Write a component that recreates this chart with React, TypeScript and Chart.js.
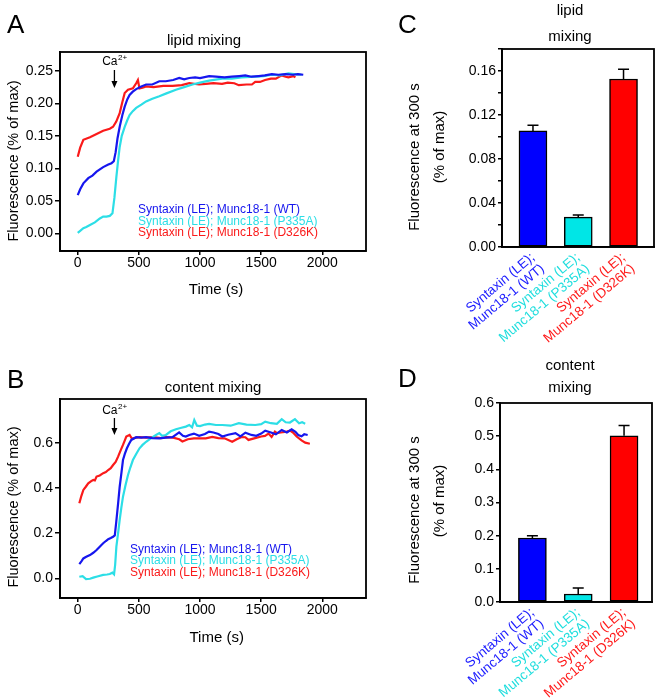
import React, { useEffect, useRef } from "react";
import { Chart, registerables } from "chart.js";

Chart.register(...registerables);

const FONT = '"Liberation Sans", Arial, Helvetica, sans-serif';

// ---------- shared labels / colours ----------
const seriesNames = [
  "Syntaxin (LE); Munc18-1 (WT)",
  "Syntaxin (LE); Munc18-1 (P335A)",
  "Syntaxin (LE); Munc18-1 (D326K)",
];
const lineColors = ["rgb(22,22,238)", "rgb(44,222,230)", "rgb(250,26,26)"];
const barFill = ["#0000ff", "#00e6e6", "#ff0000"];
const labelColors = ["#1a1aff", "#1fdede", "#ff1a1a"];
const barCategories = [
  ["Syntaxin (LE);", "Munc18-1 (WT)"],
  ["Syntaxin (LE);", "Munc18-1 (P335A)"],
  ["Syntaxin (LE);", "Munc18-1 (D326K)"],
];

// ---------- tick values ----------
const timeTicks = [0, 500, 1000, 1500, 2000];
const lipidTicks = [0, 0.05, 0.1, 0.15, 0.2, 0.25];
const contentTicks = [0, 0.2, 0.4, 0.6];
const lipidBarTicks = [0, 0.02, 0.04, 0.06, 0.08, 0.1, 0.12, 0.14, 0.16, 0.18];
const contentBarTicks = [0, 0.1, 0.2, 0.3, 0.4, 0.5, 0.6];
const caTime = 300;

// ---------- A: lipid mixing time courses ----------
const lipidWT_t = [0, 20, 46, 86, 120, 154, 208, 250, 276, 295, 310, 325, 343, 365, 384, 405, 424, 450, 478, 520, 559, 610, 667, 720, 780, 830, 870, 912, 960, 1000, 1074, 1130, 1200, 1260, 1320, 1370, 1420, 1480, 1530, 1587, 1640, 1700, 1760, 1800, 1844];
const lipidWT_v = [0.059, 0.068, 0.077, 0.085, 0.089, 0.095, 0.102, 0.106, 0.108, 0.111, 0.125, 0.146, 0.164, 0.182, 0.195, 0.206, 0.213, 0.218, 0.222, 0.226, 0.229, 0.229, 0.234, 0.234, 0.236, 0.239, 0.237, 0.239, 0.240, 0.239, 0.242, 0.241, 0.240, 0.241, 0.242, 0.243, 0.241, 0.242, 0.243, 0.245, 0.244, 0.245, 0.244, 0.245, 0.244];

const lipidP335A_t = [0, 20, 46, 70, 100, 140, 181, 208, 235, 262, 284, 300, 316, 330, 343, 360, 384, 405, 424, 450, 478, 520, 559, 610, 667, 720, 803, 870, 938, 1000, 1074, 1181, 1260, 1340, 1451, 1520, 1587, 1650, 1722, 1770, 1830];
const lipidP335A_v = [0.001, 0.004, 0.008, 0.010, 0.013, 0.017, 0.023, 0.026, 0.026, 0.027, 0.031, 0.055, 0.087, 0.112, 0.133, 0.150, 0.164, 0.174, 0.182, 0.188, 0.193, 0.198, 0.203, 0.207, 0.211, 0.215, 0.221, 0.225, 0.229, 0.232, 0.235, 0.238, 0.238, 0.240, 0.241, 0.242, 0.244, 0.243, 0.246, 0.245, 0.244];

const lipidD326K_t = [0, 20, 46, 100, 154, 208, 262, 289, 315, 343, 365, 384, 411, 451, 478, 492, 505, 530, 559, 620, 700, 776, 850, 912, 992, 1046, 1110, 1180, 1227, 1280, 1317, 1380, 1424, 1451, 1490, 1532, 1580, 1620, 1668, 1700, 1722, 1763, 1780];
const lipidD326K_v = [0.118, 0.132, 0.144, 0.148, 0.153, 0.158, 0.161, 0.164, 0.172, 0.185, 0.202, 0.216, 0.221, 0.223, 0.231, 0.236, 0.223, 0.224, 0.226, 0.225, 0.227, 0.227, 0.228, 0.231, 0.229, 0.230, 0.231, 0.230, 0.232, 0.231, 0.228, 0.229, 0.229, 0.233, 0.233, 0.236, 0.238, 0.238, 0.243, 0.241, 0.240, 0.242, 0.240];

// ---------- B: content mixing time courses ----------
const contentWT_t = [13, 30, 46, 70, 100, 127, 154, 180, 208, 230, 249, 270, 289, 303, 315, 330, 343, 358, 370, 385, 402, 420, 438, 478, 520, 559, 610, 667, 720, 775, 829, 860, 883, 912, 950, 993, 1040, 1074, 1110, 1150, 1182, 1230, 1290, 1330, 1371, 1420, 1460, 1500, 1533, 1580, 1620, 1668, 1710, 1749, 1780, 1803, 1830, 1852, 1880];
const contentWT_v = [0.063, 0.075, 0.088, 0.095, 0.103, 0.113, 0.125, 0.140, 0.155, 0.165, 0.173, 0.178, 0.184, 0.190, 0.250, 0.330, 0.405, 0.470, 0.523, 0.550, 0.575, 0.595, 0.612, 0.624, 0.622, 0.624, 0.620, 0.619, 0.622, 0.624, 0.645, 0.630, 0.627, 0.634, 0.640, 0.630, 0.638, 0.649, 0.645, 0.638, 0.627, 0.635, 0.642, 0.628, 0.644, 0.634, 0.630, 0.640, 0.653, 0.645, 0.637, 0.656, 0.645, 0.659, 0.648, 0.634, 0.628, 0.637, 0.634];

const contentP335A_t = [13, 40, 68, 100, 127, 160, 208, 240, 262, 284, 297, 306, 316, 330, 343, 356, 370, 390, 411, 430, 451, 478, 505, 530, 559, 600, 640, 667, 690, 721, 760, 803, 840, 884, 912, 935, 953, 975, 1000, 1040, 1074, 1130, 1182, 1250, 1317, 1380, 1452, 1500, 1533, 1580, 1628, 1668, 1700, 1735, 1776, 1810, 1835, 1860];
const contentP335A_v = [0.007, 0.010, -0.003, -0.002, 0.003, 0.008, 0.015, 0.017, 0.019, 0.025, 0.018, 0.060, 0.140, 0.200, 0.258, 0.310, 0.361, 0.410, 0.457, 0.490, 0.523, 0.550, 0.575, 0.590, 0.604, 0.620, 0.634, 0.642, 0.630, 0.634, 0.650, 0.659, 0.665, 0.671, 0.678, 0.668, 0.700, 0.675, 0.673, 0.680, 0.683, 0.678, 0.678, 0.675, 0.686, 0.680, 0.678, 0.682, 0.693, 0.686, 0.683, 0.704, 0.690, 0.689, 0.704, 0.686, 0.690, 0.684];

const contentD326K_t = [13, 30, 46, 66, 86, 110, 127, 140, 154, 180, 208, 230, 249, 270, 289, 310, 330, 350, 370, 385, 397, 424, 440, 451, 480, 505, 560, 620, 680, 721, 780, 830, 856, 900, 950, 991, 1047, 1100, 1150, 1200, 1263, 1300, 1340, 1370, 1396, 1450, 1500, 1531, 1560, 1585, 1612, 1628, 1660, 1709, 1736, 1760, 1790, 1830, 1860, 1898];
const contentD326K_v = [0.332, 0.365, 0.391, 0.405, 0.420, 0.430, 0.435, 0.433, 0.450, 0.455, 0.465, 0.470, 0.479, 0.487, 0.501, 0.515, 0.538, 0.565, 0.590, 0.610, 0.627, 0.634, 0.620, 0.619, 0.622, 0.624, 0.622, 0.624, 0.620, 0.624, 0.622, 0.615, 0.605, 0.615, 0.619, 0.619, 0.619, 0.625, 0.620, 0.619, 0.604, 0.615, 0.625, 0.624, 0.612, 0.620, 0.627, 0.630, 0.640, 0.625, 0.649, 0.642, 0.645, 0.649, 0.653, 0.645, 0.627, 0.610, 0.600, 0.595];

// ---------- C / D: fluorescence at 300 s ----------
const lipidBarMean = [0.1055, 0.0272, 0.1527];
const lipidBarSem = [0.0052, 0.0018, 0.009];
const contentBarMean = [0.193, 0.024, 0.501];
const contentBarSem = [0.007, 0.018, 0.031];

// ---------- helpers ----------
type Txt = {
  text: string;
  x: number;
  y: number;
  size: number;
  align?: CanvasTextAlign;
  baseline?: CanvasTextBaseline;
  rotate?: boolean;
  color?: string;
};

function makeDecor(ox: number, oy: number, texts: Txt[], extra?: (chart: any, ctx: CanvasRenderingContext2D) => void) {
  return {
    id: "decor",
    afterDraw(chart: any) {
      const ctx: CanvasRenderingContext2D = chart.ctx;
      const a = chart.chartArea;
      ctx.save();
      if (extra) extra(chart, ctx);
      ctx.strokeStyle = "#000";
      ctx.lineWidth = 1.8;
      ctx.strokeRect(a.left, a.top, a.right - a.left, a.bottom - a.top);
      for (const t of texts) {
        ctx.save();
        ctx.font = `${t.size}px ${FONT}`;
        ctx.fillStyle = t.color || "#000";
        ctx.textAlign = t.align || "center";
        ctx.textBaseline = t.baseline || "alphabetic";
        ctx.translate(t.x - ox, t.y - oy);
        if (t.rotate) ctx.rotate(-Math.PI / 2);
        ctx.fillText(t.text, 0, 0);
        ctx.restore();
      }
      ctx.restore();
    },
  };
}

const tickFont = { family: FONT, size: 14 };
const axisBorder = { display: true, color: "#000", width: 1.8 };
const axisGrid = (len: number) => ({
  display: true,
  drawOnChartArea: false,
  drawTicks: true,
  tickLength: len,
  color: "#000",
  lineWidth: 1.5,
  offset: false,
});

function lineChartConfig(p: any) {
  const decor = makeDecor(p.ox, p.oy, p.texts, (chart, ctx) => {
    // legend (text only, coloured like the series)
    ctx.font = `12px ${FONT}`;
    ctx.textAlign = "left";
    ctx.textBaseline = "middle";
    chart.data.datasets.forEach((d: any, i: number) => {
      ctx.fillStyle = d.borderColor;
      ctx.fillText(d.label, p.legend.x - p.ox, p.legend.y0 + i * p.legend.dy - p.oy);
    });
    // Ca2+ arrow
    const x = chart.scales.x.getPixelForValue(caTime);
    ctx.fillStyle = "#000";
    ctx.font = `12px ${FONT}`;
    const w1 = ctx.measureText("Ca").width;
    ctx.font = `8px ${FONT}`;
    const w2 = ctx.measureText("2+").width;
    const sx = x - (w1 + w2) / 2;
    ctx.textBaseline = "alphabetic";
    ctx.font = `12px ${FONT}`;
    ctx.fillText("Ca", sx, p.ca.base - p.oy);
    ctx.font = `8px ${FONT}`;
    ctx.fillText("2+", sx + w1 + 0.5, p.ca.base - 5 - p.oy);
    ctx.strokeStyle = "#000";
    ctx.lineWidth = 1.3;
    ctx.beginPath();
    ctx.moveTo(x, p.ca.top - p.oy);
    ctx.lineTo(x, p.ca.bottom - 5 - p.oy);
    ctx.stroke();
    ctx.beginPath();
    ctx.moveTo(x - 3, p.ca.bottom - 7 - p.oy);
    ctx.lineTo(x + 3, p.ca.bottom - 7 - p.oy);
    ctx.lineTo(x, p.ca.bottom - p.oy);
    ctx.closePath();
    ctx.fill();
  });
  return {
    type: "line",
    data: {
      datasets: p.series.map((s: any, i: number) => ({
        label: seriesNames[i],
        data: s.t.map((t: number, j: number) => ({ x: t, y: s.v[j] })),
        borderColor: lineColors[i],
        backgroundColor: lineColors[i],
        borderWidth: 2.2,
        pointRadius: 0,
        tension: 0,
        fill: false,
      })),
    },
    options: {
      responsive: false,
      animation: false,
      events: [],
      layout: { padding: p.padding },
      plugins: { legend: { display: false }, tooltip: { enabled: false } },
      scales: {
        x: {
          type: "linear",
          min: p.xMin,
          max: p.xMax,
          afterBuildTicks: (s: any) => {
            s.ticks = timeTicks.map((v) => ({ value: v }));
          },
          afterFit: (s: any) => {
            s.height = p.xHeight;
          },
          ticks: { font: tickFont, color: "#000", padding: 0, maxRotation: 0, autoSkip: false, callback: (v: number) => String(v) },
          grid: axisGrid(4),
          border: axisBorder,
        },
        y: {
          type: "linear",
          min: p.yMin,
          max: p.yMax,
          afterBuildTicks: (s: any) => {
            s.ticks = p.yTicks.map((v: number) => ({ value: v }));
          },
          afterFit: (s: any) => {
            s.width = p.yWidth;
          },
          ticks: { font: tickFont, color: "#000", padding: 2, autoSkip: false, callback: (v: number) => v.toFixed(p.yDigits) },
          grid: axisGrid(5),
          border: axisBorder,
        },
      },
    },
    plugins: [decor],
  };
}

function barChartConfig(p: any) {
  const decor = makeDecor(p.ox, p.oy, p.texts, (chart, ctx) => {
    const xs = chart.scales.x;
    const ys = chart.scales.y;
    ctx.strokeStyle = "#000";
    ctx.lineWidth = 1.5;
    p.means.forEach((m: number, i: number) => {
      const x = xs.getPixelForValue(i);
      const y0 = ys.getPixelForValue(m);
      const y1 = ys.getPixelForValue(m + p.sems[i]);
      ctx.beginPath();
      ctx.moveTo(x, y0);
      ctx.lineTo(x, y1);
      ctx.moveTo(x - 5.5, y1);
      ctx.lineTo(x + 5.5, y1);
      ctx.stroke();
    });
  });
  return {
    type: "bar",
    data: {
      datasets: [
        {
          data: p.means.map((m: number, i: number) => ({ x: i, y: m })),
          backgroundColor: barFill,
          borderColor: "#000",
          borderWidth: 1.5,
          borderSkipped: false,
          barThickness: 28,
        },
      ],
    },
    options: {
      responsive: false,
      animation: false,
      events: [],
      layout: { padding: p.padding },
      plugins: { legend: { display: false }, tooltip: { enabled: false } },
      scales: {
        x: {
          type: "linear",
          offset: false,
          min: p.xMin,
          max: p.xMax,
          afterBuildTicks: (s: any) => {
            s.ticks = barCategories.map((_, i) => ({ value: i }));
          },
          afterFit: (s: any) => {
            s.height = p.xHeight;
          },
          ticks: {
            font: { family: FONT, size: 13.5, lineHeight: 1.1 },
            color: (c: any) => labelColors[c.index],
            padding: 3,
            minRotation: 40,
            maxRotation: 40,
            autoSkip: false,
            callback: (_v: number, i: number) => barCategories[i],
          },
          grid: { display: false, drawTicks: false, offset: false },
          border: axisBorder,
        },
        y: {
          type: "linear",
          min: p.yMin,
          max: p.yMax,
          afterBuildTicks: (s: any) => {
            s.ticks = p.yTicks.map((v: number) => ({ value: v }));
          },
          afterFit: (s: any) => {
            s.width = p.yWidth;
          },
          ticks: { font: tickFont, color: "#000", padding: 2, autoSkip: false, callback: p.yLabel },
          grid: axisGrid(4),
          border: axisBorder,
        },
      },
    },
    plugins: [decor],
  };
}

function ChartCanvas({ left, top, width, height, make }: any) {
  const ref = useRef<HTMLCanvasElement>(null);
  useEffect(() => {
    const chart = new Chart(ref.current as HTMLCanvasElement, make() as any);
    return () => chart.destroy();
  }, []);
  return (
    <canvas
      ref={ref}
      width={width}
      height={height}
      style={{ position: "absolute", left, top, width, height, display: "block" }}
    />
  );
}

const makeA = () =>
  lineChartConfig({
    ox: 0,
    oy: 0,
    padding: { left: 0, top: 52, right: 14, bottom: 0 },
    yWidth: 60,
    xHeight: 79,
    xMin: -145,
    xMax: 2357,
    yMin: -0.027,
    yMax: 0.279,
    yTicks: lipidTicks,
    yDigits: 2,
    series: [
      { t: lipidWT_t, v: lipidWT_v },
      { t: lipidP335A_t, v: lipidP335A_v },
      { t: lipidD326K_t, v: lipidD326K_v },
    ],
    legend: { x: 138, y0: 210, dy: 11.2 },
    ca: { base: 65, top: 70, bottom: 88 },
    texts: [
      { text: "A", x: 7, y: 33, size: 26, align: "left" },
      { text: "lipid mixing", x: 204, y: 45, size: 15 },
      { text: "Fluorescence (% of max)", x: 14, y: 161, size: 14.5, rotate: true, baseline: "middle" },
      { text: "Time (s)", x: 216, y: 290, size: 15, baseline: "middle" },
    ],
  });

const makeB = () =>
  lineChartConfig({
    ox: 0,
    oy: 330,
    padding: { left: 0, top: 69, right: 14, bottom: 0 },
    yWidth: 60,
    xHeight: 101,
    xMin: -145,
    xMax: 2357,
    yMin: -0.087,
    yMax: 0.793,
    yTicks: contentTicks,
    yDigits: 1,
    series: [
      { t: contentWT_t, v: contentWT_v },
      { t: contentP335A_t, v: contentP335A_v },
      { t: contentD326K_t, v: contentD326K_v },
    ],
    legend: { x: 130, y0: 549.3, dy: 11.7 },
    ca: { base: 413.5, top: 418, bottom: 435 },
    texts: [
      { text: "B", x: 7, y: 388, size: 26, align: "left" },
      { text: "content mixing", x: 213, y: 392, size: 15 },
      { text: "Fluorescence (% of max)", x: 14, y: 507, size: 14.5, rotate: true, baseline: "middle" },
      { text: "Time (s)", x: 216.7, y: 638, size: 15, baseline: "middle" },
    ],
  });

const makeC = () =>
  barChartConfig({
    ox: 380,
    oy: 0,
    padding: { left: 0, top: 49, right: 6, bottom: 0 },
    yWidth: 122,
    xHeight: 103,
    xMin: -0.684,
    xMax: 2.673,
    yMin: 0,
    yMax: 0.18,
    yTicks: lipidBarTicks,
    yLabel: (v: number) => (Math.round(v * 100) % 4 === 0 ? v.toFixed(2) : ""),
    means: lipidBarMean,
    sems: lipidBarSem,
    texts: [
      { text: "C", x: 398, y: 33, size: 26, align: "left" },
      { text: "lipid", x: 570, y: 15, size: 15 },
      { text: "mixing", x: 570, y: 41, size: 15 },
      { text: "Fluorescence at 300 s", x: 414.5, y: 157, size: 15, rotate: true, baseline: "middle" },
      { text: "(% of max)", x: 440, y: 147, size: 15, rotate: true, baseline: "middle" },
    ],
  });

const makeD = () =>
  barChartConfig({
    ox: 380,
    oy: 350,
    padding: { left: 0, top: 53, right: 8, bottom: 0 },
    yWidth: 120,
    xHeight: 97,
    xMin: -0.707,
    xMax: 2.61,
    yMin: 0,
    yMax: 0.6,
    yTicks: contentBarTicks,
    yLabel: (v: number) => v.toFixed(1),
    means: contentBarMean,
    sems: contentBarSem,
    texts: [
      { text: "D", x: 398, y: 387, size: 26, align: "left" },
      { text: "content", x: 570, y: 370, size: 15 },
      { text: "mixing", x: 570, y: 392, size: 15 },
      { text: "Fluorescence at 300 s", x: 414.5, y: 510, size: 15, rotate: true, baseline: "middle" },
      { text: "(% of max)", x: 440, y: 501, size: 15, rotate: true, baseline: "middle" },
    ],
  });

export default function App() {
  return (
    <div style={{ position: "absolute", left: 0, top: 0, width: 660, height: 699, background: "#fff", overflow: "hidden" }}>
      <ChartCanvas left={0} top={0} width={380} height={330} make={makeA} />
      <ChartCanvas left={0} top={330} width={380} height={369} make={makeB} />
      <ChartCanvas left={380} top={0} width={280} height={350} make={makeC} />
      <ChartCanvas left={380} top={350} width={280} height={349} make={makeD} />
    </div>
  );
}
